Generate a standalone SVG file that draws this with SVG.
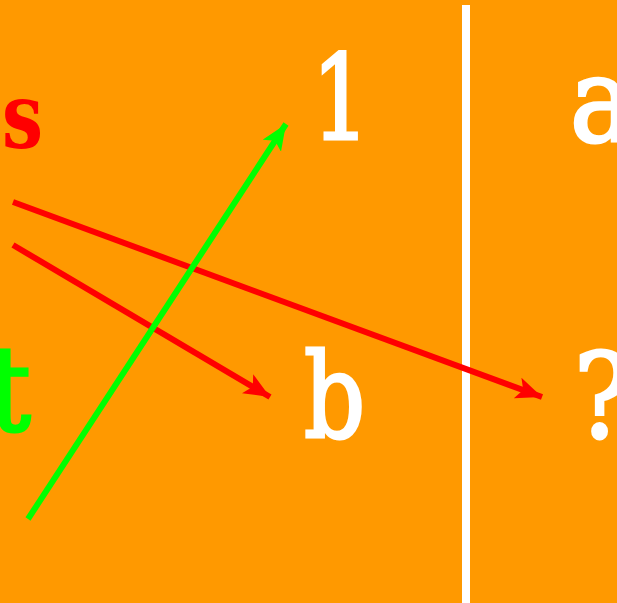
<svg xmlns="http://www.w3.org/2000/svg" width="617" height="603" viewBox="0 0 617 603">
<style>
.lbl{font-family:"DejaVu Serif Condensed","DejaVu Serif",serif;font-stretch:condensed;font-size:118px;fill:#fff;stroke:#fff;stroke-width:3}
.c{fill:none;stroke-width:6}
</style>
<defs>
<marker id="ar" markerUnits="userSpaceOnUse" markerWidth="28" markerHeight="24" refX="26" refY="11" orient="auto"><path d="M0,0 L26,11 L0,22 L6,11 Z" fill="#f00"/></marker>
<marker id="ag" markerUnits="userSpaceOnUse" markerWidth="28" markerHeight="24" refX="26" refY="11" orient="auto"><path d="M0,0 L26,11 L0,22 L6,11 Z" fill="#0f0"/></marker>
</defs>
<rect width="617" height="603" fill="#ff9900"/>
<rect x="462" y="5" width="8" height="598" fill="#fff"/>
<g id="s"><text transform="translate(2,148) scale(0.88,1)" class="lbl" style="font-size:92px;font-weight:bold;fill:#f00;stroke:none">s</text></g>
<g id="t"><text x="-12" y="430" class="lbl" style="fill:#0f0;stroke:#0f0">t</text></g>
<g id="n1"><text transform="translate(312,139) scale(0.85,1)" class="lbl">1</text></g>
<g id="a"><text x="570" y="141" class="lbl">a</text></g>
<g id="b"><text transform="translate(304,437) scale(0.9,1)" class="lbl">b</text></g>
<g id="q"><text x="574" y="437" class="lbl">?</text></g>
<g id="connectors">
<line class="c" x1="13" y1="202" x2="542" y2="397" stroke="#f00" marker-end="url(#ar)"/>
<line class="c" x1="13" y1="245" x2="270" y2="397" stroke="#f00" marker-end="url(#ar)"/>
<line class="c" x1="28" y1="519" x2="286" y2="124" stroke="#0f0" marker-end="url(#ag)"/>
</g>
</svg>
